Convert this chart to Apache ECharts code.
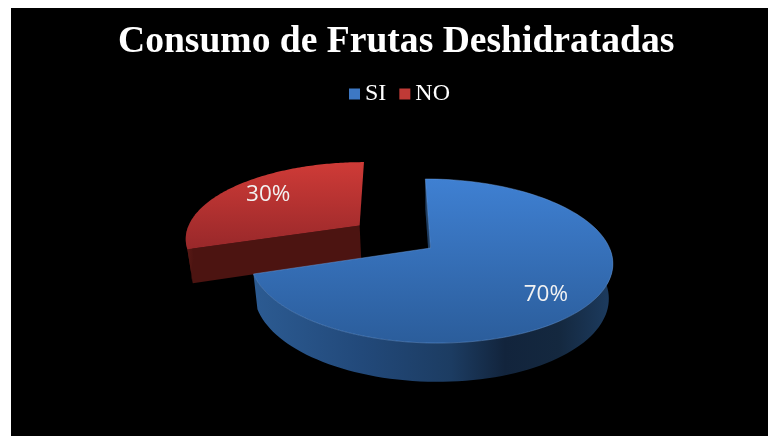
<!DOCTYPE html>
<html><head><meta charset="utf-8">
<style>html,body{margin:0;padding:0;background:#fff}#chart{width:768px;height:436px}</style>
<script src="https://cdn.jsdelivr.net/npm/echarts@6/dist/echarts.min.js"></script>
</head><body><div id="chart"></div>
<script>
const titleText = 'Consumo de Frutas Deshidratadas';
const categories = ['SI', 'NO'];
const values = [70, 30];
const explode = [0, 0.5];
const labelShift = [[-6, 8], [5, 0]];
const topColors = [['#3f80d2', '#2b5d9b'], ['#cf3b37', '#98282a']];
const legendColors = ['#3d78c4', '#c03a36'];
const wallStops = [
  [[0, '#2c5b92'], [0.3, '#22497a'], [0.55, '#1c3c62'], [0.7, '#12243c'], [0.85, '#14283f'], [1, '#1d3c60']],
  [[0, '#5a1a16'], [1, '#4c1411']]
];

const total = values.reduce((a, b) => a + b, 0);
const P = { cx: 430.5, cy: 248, a: 179, b: 80, k: 0.1585, skew: -6, a2: 175, b2: 84, d: 34 };
function proj(u, v, low) {
  const w = 1 + P.k * v;
  return low
    ? [P.cx + P.a2 * u / w + P.skew * v / w, P.cy + P.d - P.b2 * v / w]
    : [P.cx + P.a * u / w + P.skew * v / w, P.cy - P.b * v / w];
}
function sliceRender(i) {
  return function () {
    const before = values.slice(0, i).reduce((a, b) => a + b, 0);
    const t0 = before / total * 2 * Math.PI;
    const t1 = (before + values[i]) / total * 2 * Math.PI;
    const mid = (t0 + t1) / 2;
    const ox = explode[i] * Math.sin(mid), oy = explode[i] * Math.cos(mid);
    const arc = function (low, frontOnly) {
      const pts = [];
      for (let n = 0; n <= 120; n++) {
        const t = t0 + (t1 - t0) * n / 120;
        if (frontOnly && Math.cos(t) >= 0) continue;
        pts.push(proj(ox + Math.sin(t), oy + Math.cos(t), low));
      }
      return pts;
    };
    const hi = arc(false), lo = arc(true);
    const hiFront = arc(false, true), loFront = arc(true, true);
    const apexHi = proj(ox, oy, false), apexLo = proj(ox, oy, true);
    const wallFill = new echarts.graphic.LinearGradient(0, 0, 1, 0,
      wallStops[i].map(s => ({ offset: s[0], color: s[1] })));
    const topFill = new echarts.graphic.LinearGradient(0, 0, 0, 1, [
      { offset: 0, color: topColors[i][0] }, { offset: 1, color: topColors[i][1] }]);
    const flat = wallStops[i][wallStops[i].length - 1][1];
    const lp = proj(ox + 0.76 * Math.sin(mid), oy + 0.76 * Math.cos(mid), false);
    return {
      type: 'group',
      children: [
        { type: 'polygon', shape: { points: [apexHi, hi[0], lo[0], apexLo] }, style: { fill: flat } },
        { type: 'polygon', shape: { points: hiFront.concat(loFront.slice().reverse()) }, style: { fill: wallFill } },
        { type: 'polygon', shape: { points: [apexHi].concat(hi) }, style: { fill: topFill, stroke: 'rgba(110,160,225,' + (i === 0 ? 0.55 : 0) + ')', lineWidth: 0.8 } },
        { type: 'text', style: {
            text: Math.round(values[i] / total * 100) + '%',
            x: lp[0] + labelShift[i][0], y: lp[1] + labelShift[i][1],
            fill: '#f2f2f2', font: '22.5px "Open Sans"', align: 'center', verticalAlign: 'middle' } }
      ]
    };
  };
}
const chart = echarts.init(document.getElementById('chart'), null, { renderer: 'canvas' });
chart.setOption({
  animation: false,
  backgroundColor: '#ffffff',
  graphic: [{ type: 'rect', z: -10, shape: { x: 11, y: 8, width: 757, height: 428 }, style: { fill: '#000' } }],
  title: { text: titleText, left: 113, top: 18,
    textStyle: { color: '#fff', fontFamily: '"Liberation Serif"', fontWeight: 'bold', fontSize: 37.6 } },
  legend: {
    left: 344, top: 77, itemWidth: 11, itemHeight: 11, itemGap: 13, icon: 'rect',
    textStyle: { color: '#fff', fontFamily: '"Liberation Serif"', fontSize: 24 },
    data: categories.map((c, i) => ({ name: c, itemStyle: { color: legendColors[i] } }))
  },
  series: categories.map((c, i) => ({
    type: 'custom', name: c, coordinateSystem: 'none', z: i === 0 ? 3 : 2,
    itemStyle: { color: legendColors[i] },
    data: [[values[i]]], renderItem: sliceRender(i)
  }))
});
</script></body></html>
